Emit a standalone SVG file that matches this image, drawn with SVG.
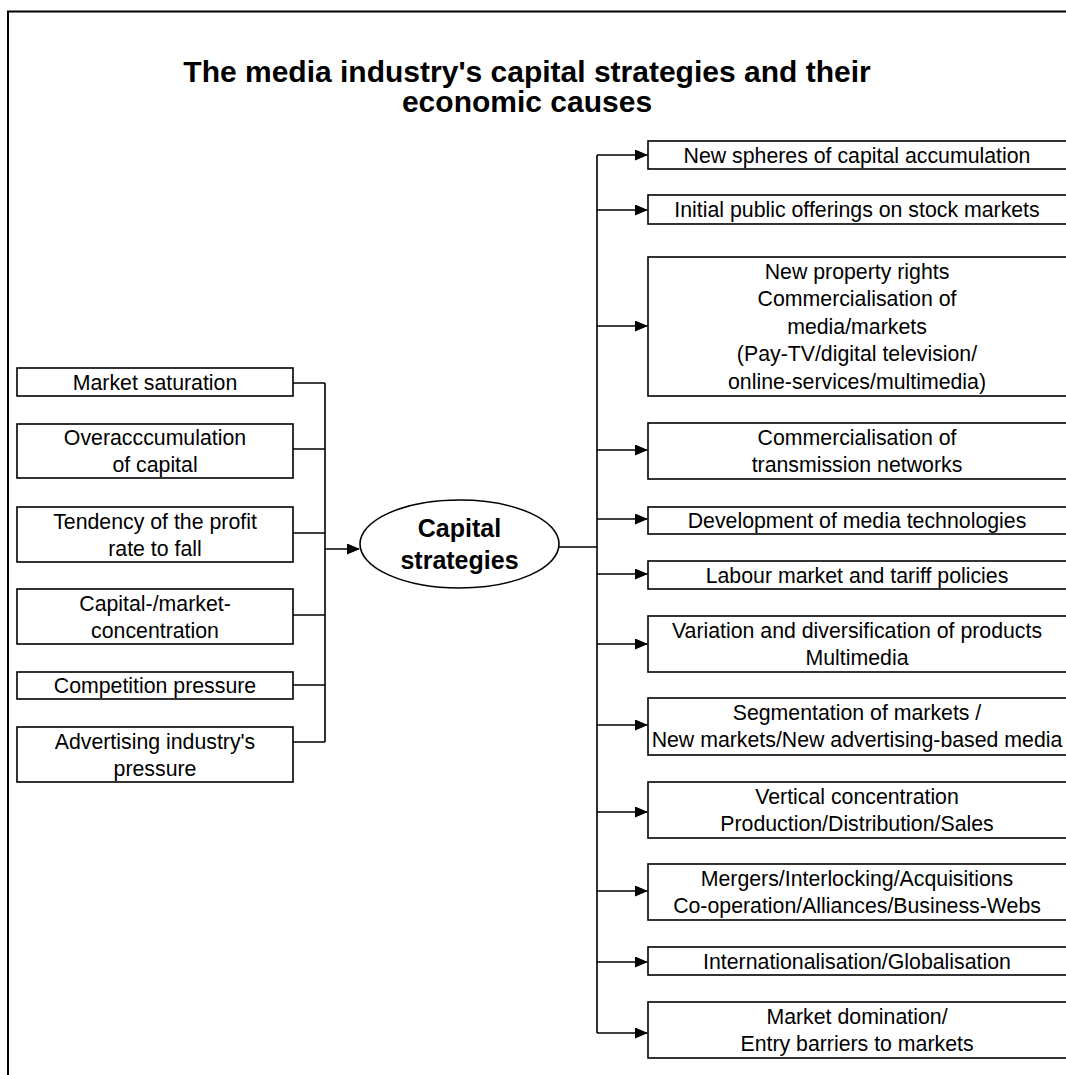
<svg xmlns="http://www.w3.org/2000/svg" width="1066" height="1075" viewBox="0 0 1066 1075">
<style>
.box{fill:#fff;stroke:#000;stroke-width:1.6}
.t{font-family:"Liberation Sans",Arial,sans-serif;font-size:21.3px;text-anchor:middle;fill:#000}
.title{font-family:"Liberation Sans",Arial,sans-serif;font-size:30px;font-weight:bold;text-anchor:middle;fill:#000}
.ct{font-family:"Liberation Sans",Arial,sans-serif;font-size:25px;font-weight:bold;text-anchor:middle;fill:#000}
.c{fill:none;stroke:#000;stroke-width:1.6}
</style>
<defs>
<marker id="ah" markerWidth="13" markerHeight="11" refX="12" refY="5.5" orient="auto" markerUnits="userSpaceOnUse">
<path d="M0,0 L13,5.5 L0,11 Z" fill="#000"/>
</marker>
</defs>
<rect x="0" y="0" width="1066" height="1075" fill="#fff"/>
<rect x="8" y="11.5" width="1080" height="1090" fill="none" stroke="#000" stroke-width="2"/>
<g id="title">
<text class="title" x="527" y="82">The media industry's capital strategies and their</text>
<text class="title" x="527" y="112">economic causes</text>
</g>
<g id="connectors">
<path class="c" d="M293,383 H325 M293,449 H325 M293,533 H325 M293,615 H325 M293,685 H325 M293,742 H325 M325,383 V742"/>
<path class="c" d="M325,549 H359" marker-end="url(#ah)"/>
<path class="c" d="M559,547 H597 M597,155 V1033"/>
<path class="c" d="M597,155 H647" marker-end="url(#ah)"/>
<path class="c" d="M597,210 H647" marker-end="url(#ah)"/>
<path class="c" d="M597,326 H647" marker-end="url(#ah)"/>
<path class="c" d="M597,450 H647" marker-end="url(#ah)"/>
<path class="c" d="M597,519 H647" marker-end="url(#ah)"/>
<path class="c" d="M597,574 H647" marker-end="url(#ah)"/>
<path class="c" d="M597,644 H647" marker-end="url(#ah)"/>
<path class="c" d="M597,725 H647" marker-end="url(#ah)"/>
<path class="c" d="M597,812 H647" marker-end="url(#ah)"/>
<path class="c" d="M597,891 H647" marker-end="url(#ah)"/>
<path class="c" d="M597,962 H647" marker-end="url(#ah)"/>
<path class="c" d="M597,1033 H647" marker-end="url(#ah)"/>
</g>
<g id="n-market-saturation"><rect class="box" x="17" y="368" width="276" height="28"/><text class="t" x="155" y="389.5">Market saturation</text></g>
<g id="n-overaccumulation"><rect class="box" x="17" y="424" width="276" height="54"/><text class="t" x="155" y="445">Overacccumulation</text><text class="t" x="155" y="472">of capital</text></g>
<g id="n-tendency"><rect class="box" x="17" y="507" width="276" height="55"/><text class="t" x="155" y="528.5">Tendency of the profit</text><text class="t" x="155" y="555.5">rate to fall</text></g>
<g id="n-concentration"><rect class="box" x="17" y="589" width="276" height="55"/><text class="t" x="155" y="610.5">Capital-/market-</text><text class="t" x="155" y="637.5">concentration</text></g>
<g id="n-competition"><rect class="box" x="17" y="672" width="276" height="27"/><text class="t" x="155" y="693">Competition pressure</text></g>
<g id="n-advertising"><rect class="box" x="17" y="727" width="276" height="55"/><text class="t" x="155" y="748.5">Advertising industry's</text><text class="t" x="155" y="775.5">pressure</text></g>
<g id="n-capital-strategies"><ellipse cx="459.5" cy="544" rx="99.5" ry="44" fill="#fff" stroke="#000" stroke-width="1.6"/><text class="ct" x="459.5" y="537">Capital</text><text class="ct" x="459.5" y="569">strategies</text></g>
<g id="r1"><rect class="box" x="648" y="141" width="430" height="28"/><text class="t" x="857" y="162.5">New spheres of capital accumulation</text></g>
<g id="r2"><rect class="box" x="648" y="195" width="430" height="29"/><text class="t" x="857" y="217">Initial public offerings on stock markets</text></g>
<g id="r3"><rect class="box" x="648" y="257" width="430" height="139"/><text class="t" x="857" y="278.5">New property rights</text><text class="t" x="857" y="306">Commercialisation of</text><text class="t" x="857" y="333.5">media/markets</text><text class="t" x="857" y="361">(Pay-TV/digital television/</text><text class="t" x="857" y="388.5">online-services/multimedia)</text></g>
<g id="r4"><rect class="box" x="648" y="423" width="430" height="56"/><text class="t" x="857" y="444.5">Commercialisation of</text><text class="t" x="857" y="471.5">transmission networks</text></g>
<g id="r5"><rect class="box" x="648" y="507" width="430" height="27"/><text class="t" x="857" y="528">Development of media technologies</text></g>
<g id="r6"><rect class="box" x="648" y="561" width="430" height="28"/><text class="t" x="857" y="582.5">Labour market and tariff policies</text></g>
<g id="r7"><rect class="box" x="648" y="616" width="430" height="56"/><text class="t" x="857" y="637.5">Variation and diversification of products</text><text class="t" x="857" y="664.5">Multimedia</text></g>
<g id="r8"><rect class="box" x="648" y="698" width="430" height="57"/><text class="t" x="857" y="720">Segmentation of markets /</text><text class="t" x="857" y="747">New markets/New advertising-based media</text></g>
<g id="r9"><rect class="box" x="648" y="782" width="430" height="56"/><text class="t" x="857" y="803.5">Vertical concentration</text><text class="t" x="857" y="830.5">Production/Distribution/Sales</text></g>
<g id="r10"><rect class="box" x="648" y="864" width="430" height="56"/><text class="t" x="857" y="885.5">Mergers/Interlocking/Acquisitions</text><text class="t" x="857" y="912.5">Co-operation/Alliances/Business-Webs</text></g>
<g id="r11"><rect class="box" x="648" y="947" width="430" height="28"/><text class="t" x="857" y="968.5">Internationalisation/Globalisation</text></g>
<g id="r12"><rect class="box" x="648" y="1002" width="430" height="56"/><text class="t" x="857" y="1023.5">Market domination/</text><text class="t" x="857" y="1050.5">Entry barriers to markets</text></g>
</svg>
